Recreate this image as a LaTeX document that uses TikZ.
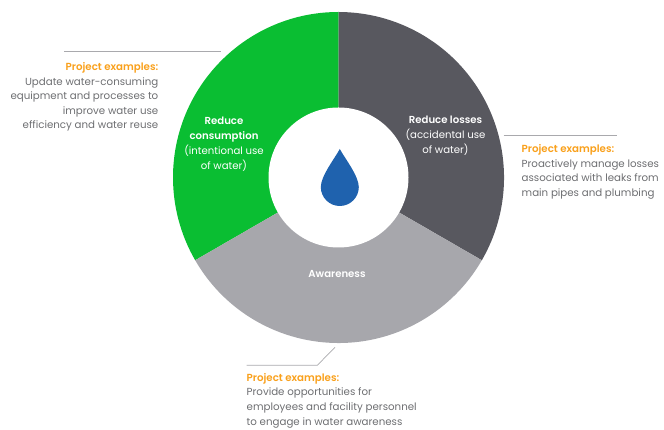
\documentclass[tikz,border=0pt]{standalone}
\usepackage{fontspec}
\setmainfont{Poppins}[BoldFont={Poppins SemiBold}]
\definecolor{cgreen}{HTML}{0ABE32}
\definecolor{cdark}{HTML}{58585F}
\definecolor{cgray}{HTML}{A7A7AC}
\definecolor{cblue}{HTML}{1F62AE}
\definecolor{corange}{HTML}{F9A01B}
\definecolor{ctext}{HTML}{6D6E71}
\definecolor{cline}{HTML}{A9A9AD}
\tikzset{
  x=1pt,y=1pt,
  ex/.style={inner sep=0pt,text=ctext,font=\fontsize{10.25}{14.6}\selectfont},
  inn/.style={inner sep=0pt,text=white,align=center,font=\fontsize{10.15}{14.9}\selectfont},
  leader/.style={draw=cline,line width=0.7pt},
}
\begin{document}
\begin{tikzpicture}
\useasboundingbox (0,0) rectangle (664,430);
\coordinate (c) at (338.5,252.5);
\fill[cgreen] (c) -- ++(90:165.5) arc (90:210:165.5) -- cycle;
\fill[cdark] (c) -- ++(-30:165.5) arc (-30:90:165.5) -- cycle;
\fill[cgray] (c) -- ++(210:165.5) arc (210:330:165.5) -- cycle;
\fill[white] (c) circle (70);
\fill[cblue] (339.8,281) .. controls (335,272) and (320.8,254) .. (320.8,243)
  arc (180:360:19) .. controls (358.8,254) and (344.6,272) .. (339.8,281) -- cycle;
\node[inn] (rc) at (224,285.8) {\textbf{Reduce}\\\textbf{consumption}\\(intentional use\\of water)};
\node[inn] (rl) at (445.5,294.5) {\textbf{Reduce losses}\\(accidental use\\of water)};
\node[inn] (aw) at (337,155.8) {\textbf{Awareness}};
\coordinate (l1) at (64,378.7);
\coordinate (l2) at (221,378.7);
\draw[leader] (l1) -- (l2);
\coordinate (r1) at (503.5,295);
\coordinate (r2) at (617,295);
\draw[leader] (r1) -- (r2);
\coordinate (b1) at (246.7,64.7);
\coordinate (b2) at (317.3,64.7);
\coordinate (b3) at (335,82.7);
\draw[leader] (b1) -- (b2) -- (b3);
\node[ex,align=right,anchor=north east] (tl) at (158.5,367.8) {\textcolor{corange}{\textbf{Project examples:}}\\Update water-consuming\\equipment and processes to\\improve water use\\efficiency and water reuse};
\node[ex,align=left,anchor=north west] (tr) at (521.5,285.7) {\textcolor{corange}{\textbf{Project examples:}}\\Proactively manage losses\\associated with leaks from\\main pipes and plumbing};
\node[ex,align=left,anchor=north west] (tb) at (246.5,57) {\textcolor{corange}{\textbf{Project examples:}}\\Provide opportunities for\\employees and facility personnel\\to engage in water awareness};
\end{tikzpicture}
\end{document}
